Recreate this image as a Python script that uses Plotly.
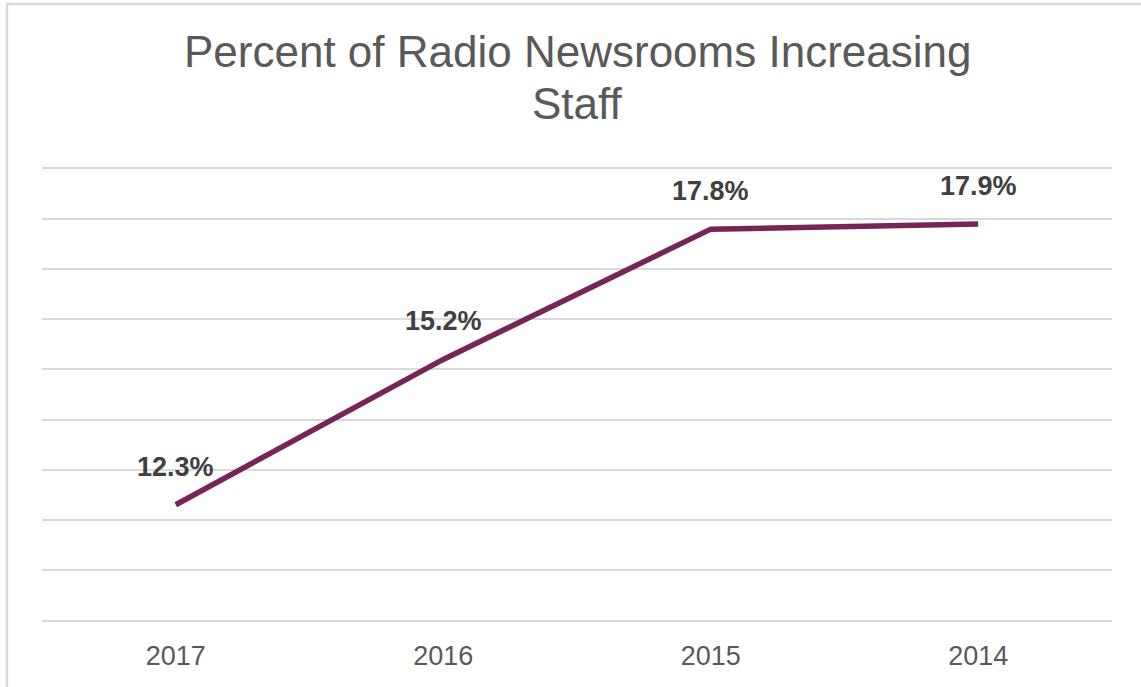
import plotly.graph_objects as go

years = ["2017", "2016", "2015", "2014"]
pct_increasing = [12.3, 15.2, 17.8, 17.9]
title_lines = ["Percent of Radio Newsrooms Increasing", "Staff"]

LINE_COLOR = "#772557"
GRID_COLOR = "#d9d9d9"
TEXT_COLOR = "#595959"
LABEL_COLOR = "#404040"
FONT = "Liberation Sans, Arial, sans-serif"

W, H = 1141, 687
M_L, M_R, M_T, M_B = 42, 29, 169, 67
plot_w = W - M_L - M_R
plot_h = H - M_T - M_B


def px_x(px):
    return (px - M_L) / plot_w


def px_y(py):
    return (H - M_B - py) / plot_h


fig = go.Figure()
fig.add_trace(go.Scatter(
    x=years,
    y=pct_increasing,
    mode="lines",
    line=dict(color=LINE_COLOR, width=5.5),
    hoverinfo="skip",
    showlegend=False,
))

# value labels above each point (category index on the x axis)
for i, v in enumerate(pct_increasing):
    fig.add_annotation(
        x=i, y=v, xref="x", yref="y",
        text=f"<b>{v}%</b>", showarrow=False,
        yshift=38,
        font=dict(family=FONT, size=27, color=LABEL_COLOR),
    )

# two-line chart title
for line, cy in zip(title_lines, [52, 103]):
    fig.add_annotation(
        x=0.5, y=px_y(cy), xref="paper", yref="paper",
        xanchor="center", yanchor="middle",
        text=line, showarrow=False,
        font=dict(family=FONT, size=44, color=TEXT_COLOR),
    )

# chart frame (left and top edges visible)
fig.add_shape(
    type="rect", xref="paper", yref="paper",
    x0=px_x(7), x1=px_x(W + 10), y0=px_y(H + 10), y1=px_y(4),
    line=dict(color=GRID_COLOR, width=2.5), fillcolor="rgba(0,0,0,0)",
    layer="below",
)

fig.update_layout(
    width=W, height=H,
    margin=dict(l=M_L, r=M_R, t=M_T, b=M_B),
    paper_bgcolor="white",
    plot_bgcolor="white",
    xaxis=dict(
        type="category",
        range=[-0.5, 3.5],
        showgrid=False,
        showline=True,
        mirror=True,
        linecolor=GRID_COLOR,
        linewidth=2,
        zeroline=False,
        ticks="",
        tickfont=dict(family=FONT, size=27, color=TEXT_COLOR),
        ticklabelstandoff=11,
    ),
    yaxis=dict(
        range=[10, 19],
        dtick=1,
        tick0=10,
        showgrid=True,
        gridcolor=GRID_COLOR,
        gridwidth=2,
        showticklabels=False,
        zeroline=False,
        showline=False,
        ticks="",
    ),
)

fig.write_html("out.html")
